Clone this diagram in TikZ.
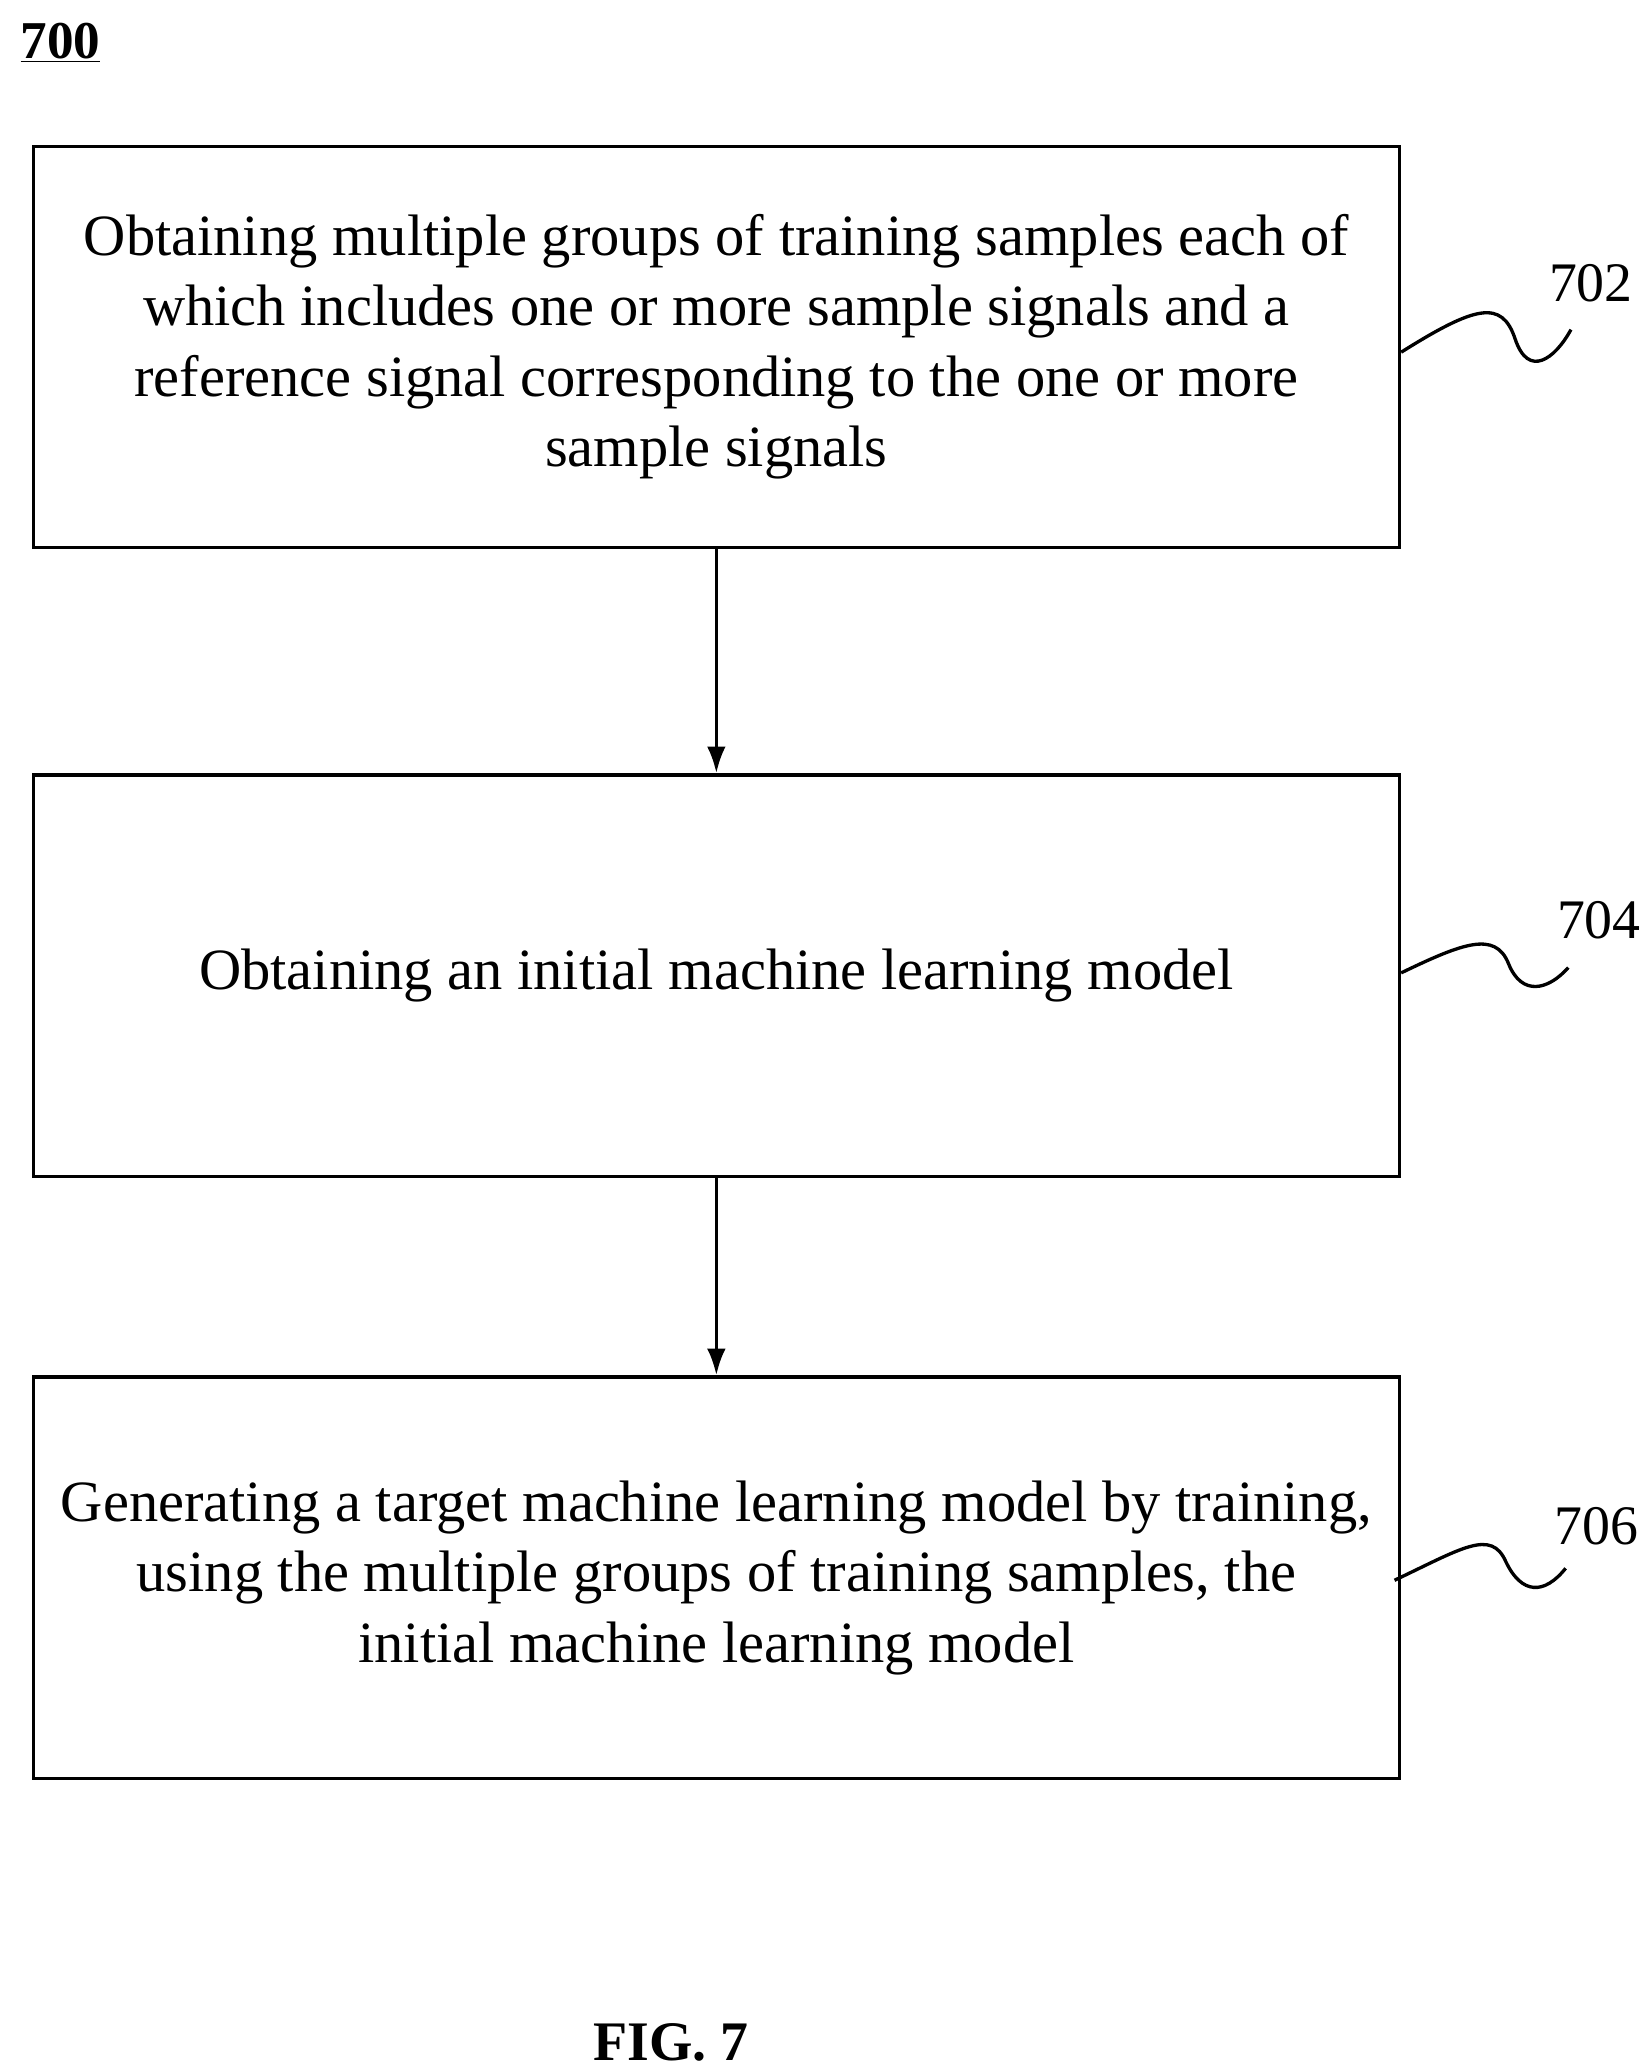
\documentclass[tikz,border=0pt]{standalone}
\usepackage{fontspec}
\setmainfont{Liberation Serif}
\usetikzlibrary{arrows.meta}
\begin{document}
\begin{tikzpicture}[x=1pt,y=-1pt,
  box/.style={draw,line width=2.5pt,minimum width=1028pt,minimum height=302pt,align=center,inner sep=0pt},
  txt/.style={font=\fontsize{44}{53}\selectfont},
  lab/.style={font=\fontsize{42}{50}\selectfont},
  arr/.style={line width=2.5pt,-{Latex[length=20pt,width=14pt]}},
  sq/.style={line width=2.5pt}]
\useasboundingbox (0,0) rectangle (1240,1556);
\node[box,txt] (b1) at (539,261) {Obtaining multiple groups of training samples each of\\which includes one or more sample signals and a\\reference signal corresponding to the one or more\\sample signals};
\node[box,txt] (b2) at (539,734) {Obtaining an initial machine learning model};
\node[box,txt] (b3) at (539,1187) {Generating a target machine learning model by training,\\using the multiple groups of training samples, the\\initial machine learning model};
\draw[arr] (b1) -- (b2);
\draw[arr] (b2) -- (b3);
\node[lab,anchor=west] (l1) at (1162,213) {702};
\node[lab,anchor=west] (l2) at (1168,692) {704};
\node[lab,anchor=west] (l3) at (1166,1148) {706};
\coordinate (s1) at (1182,248);
\coordinate (s2) at (1180,728);
\coordinate (s3) at (1178,1180);
\draw[sq] (b1.east) ++(0,4) .. controls (1110,230) and (1130,225) .. (1140,255) .. controls (1150,285) and (1170,270) .. (s1);
\draw[sq] (b2.east) ++(0,-2) .. controls (1100,710) and (1125,700) .. (1135,725) .. controls (1145,750) and (1165,745) .. (s2);
\draw[sq] (b3.east) ++(-5,2) .. controls (1100,1165) and (1122,1150) .. (1133,1175) .. controls (1145,1200) and (1162,1200) .. (s3);
\node[font=\fontsize{40}{46}\selectfont\bfseries,anchor=west] (t) at (12,32) {\underline{700}};
\node[font=\fontsize{42}{46}\selectfont\bfseries] (f) at (505,1537) {FIG. 7};
\end{tikzpicture}
\end{document}
